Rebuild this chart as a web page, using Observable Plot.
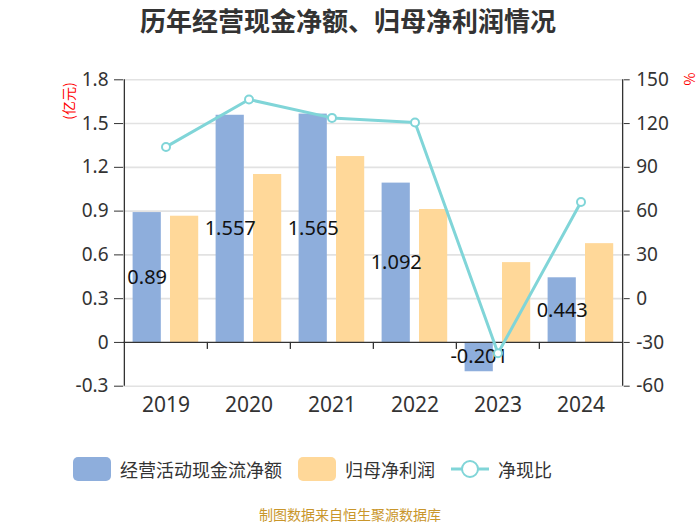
<!DOCTYPE html>
<html>
<head>
<meta charset="utf-8">
<script src="https://cdn.jsdelivr.net/npm/d3@7"></script>
<script src="https://cdn.jsdelivr.net/npm/@observablehq/plot@0.6"></script>
<style>
  html, body { margin: 0; padding: 0; background: #fff; }
  #wrap { position: relative; width: 700px; height: 525px; overflow: hidden; font-family: "Noto Sans", "Noto Sans CJK SC", sans-serif; }
  #title { position: absolute; left: 0; top: 4px; width: 696px; text-align: center; font-family: "Noto Sans CJK SC", sans-serif; font-weight: bold; font-size: 26px; line-height: 32px; color: #333; }
  #chart { position: absolute; left: 0; top: 0; }
  .unit { position: absolute; color: #f00; font-family: "Noto Sans CJK SC", sans-serif; font-size: 14px; line-height: 14px; white-space: nowrap; transform-origin: center center; }
  #legend { position: absolute; left: 0; top: 455px; width: 700px; height: 28px; font-family: "Noto Sans CJK SC", sans-serif; font-size: 18px; color: #333; }
  .item { position: absolute; top: 0; height: 28px; display: flex; align-items: center; }
  .sw { width: 38px; height: 24px; border-radius: 5px; margin-right: 9px; }
  #caption { position: absolute; left: 0; top: 507px; width: 700px; height: 14px; text-align: center; font-family: "Noto Sans CJK SC", sans-serif; font-size: 14px; line-height: 14px; color: #c9962b; }
</style>
</head>
<body>
<div id="wrap">
  <div id="chart"></div>
  <div id="title"></div>
  <div class="unit" id="unitL"></div>
  <div class="unit" id="unitR"></div>
  <div id="legend"></div>
  <div id="caption"></div>
</div>
<script>
const title = "历年经营现金净额、归母净利润情况";
const years = ["2019", "2020", "2021", "2022", "2023", "2024"];
const cashFlow = [0.89, 1.557, 1.565, 1.092, -0.201, 0.443];
const netProfit = [0.865, 1.151, 1.274, 0.911, 0.547, 0.677];
const ratio = [104.0, 136.5, 123.9, 120.7, -37.4, 66.2];
const leftTicks = [-0.3, 0, 0.3, 0.6, 0.9, 1.2, 1.5, 1.8];
const rightTicks = [-60, -30, 0, 30, 60, 90, 120, 150];
const seriesNames = ["经营活动现金流净额", "归母净利润", "净现比"];
const unitLeft = "(亿元)";
const unitRight = "%";
const caption = "制图数据来自恒生聚源数据库";

const colors = { cash: "#8eaedc", profit: "#ffd899", ratio: "#80d5d8" };

// right axis (-60..150) is mapped onto the left domain (-0.3..1.8)
const toLeft = v => v / 100 + 0.3;
const fromLeft = d => Math.round((d - 0.3) * 100);

const rows = years.map((year, i) => ({ year, cash: cashFlow[i], profit: netProfit[i], ratio: ratio[i] }));

const W = 700, H = 430, ML = 123, MR = 77.3, MT = 79.3, MB = 44.3;
const bw = (W - ML - MR) / years.length;
const barW = 28.5, off1 = 8.6, off2 = 46;

const fmtL = d => d === 0 ? "0" : d.toFixed(1);

const chart = Plot.plot({
  width: W, height: H,
  marginLeft: ML, marginRight: MR, marginTop: MT, marginBottom: MB,
  style: { fontFamily: "'Noto Sans', 'Noto Sans CJK SC', sans-serif", background: "transparent" },
  x: { type: "band", domain: years, padding: 0 },
  y: { domain: [-0.3, 1.8] },
  marks: [
    Plot.ruleY(leftTicks.filter(d => d !== 0), { stroke: "#e2e2e2", strokeWidth: 1.6 }),
    Plot.barY(rows, { x: "year", y: "cash", fill: colors.cash, insetLeft: off1, insetRight: bw - off1 - barW }),
    Plot.barY(rows, { x: "year", y: "profit", fill: colors.profit, insetLeft: off2, insetRight: bw - off2 - barW }),
    Plot.ruleY([0], { stroke: "#333", strokeWidth: 1.3 }),
    Plot.ruleX(years.slice(1), { x: d => d, dx: -bw / 2, y1: 0, y2: -0.048, stroke: "#333", strokeWidth: 1.3 }),
    Plot.ruleX([years[0]], { x: d => d, dx: -bw / 2, y1: -0.3, y2: 1.8, stroke: "#333", strokeWidth: 1.3 }),
    Plot.ruleX([years[years.length - 1]], { x: d => d, dx: bw / 2, y1: -0.3, y2: 1.8, stroke: "#333", strokeWidth: 1.3 }),
    Plot.axisY({ anchor: "left", ticks: leftTicks, tickFormat: fmtL, tickSize: 9, tickPadding: 6, fontSize: 19, color: "#333", stroke: "#333", label: null }),
    Plot.axisY({ anchor: "right", ticks: rightTicks.map(toLeft), tickFormat: d => String(fromLeft(d)), tickSize: 6, tickPadding: 7, fontSize: 19, color: "#333", stroke: "#333", label: null }),
    Plot.axisX({ tickSize: 0, tickPadding: 11, fontSize: 21, color: "#333", label: null }),
    Plot.text(rows, { x: "year", y: d => d.cash / 2, text: d => String(d.cash), dx: off1 + barW / 2 - bw / 2, fontSize: 20, fill: "#111" }),
    Plot.line(rows, { x: "year", y: d => toLeft(d.ratio), stroke: colors.ratio, strokeWidth: 3 }),
    Plot.dot(rows, { x: "year", y: d => toLeft(d.ratio), r: 4, fill: "#fff", stroke: colors.ratio, strokeWidth: 2 })
  ]
});
document.getElementById("chart").appendChild(chart);

document.getElementById("title").textContent = title;
document.getElementById("caption").textContent = caption;

const uL = document.getElementById("unitL");
uL.textContent = unitLeft;
uL.style.left = (68 - 21) + "px";
uL.style.top = (101 - 7) + "px";
uL.style.width = "42px";
uL.style.textAlign = "center";
uL.style.transform = "rotate(-90deg)";

const uR = document.getElementById("unitR");
uR.textContent = unitRight;
uR.style.left = (689 - 7) + "px";
uR.style.top = (79 - 7) + "px";
uR.style.width = "14px";
uR.style.textAlign = "center";
uR.style.transform = "rotate(-90deg)";

const legend = document.getElementById("legend");
const items = [
  { name: seriesNames[0], left: 73, kind: "rect", color: colors.cash },
  { name: seriesNames[1], left: 298, kind: "rect", color: colors.profit },
  { name: seriesNames[2], left: 451, kind: "line", color: colors.ratio }
];
for (const it of items) {
  const el = document.createElement("div");
  el.className = "item";
  el.style.left = it.left + "px";
  if (it.kind === "rect") {
    const sw = document.createElement("div");
    sw.className = "sw";
    sw.style.background = it.color;
    el.appendChild(sw);
  } else {
    const ns = "http://www.w3.org/2000/svg";
    const s = document.createElementNS(ns, "svg");
    s.setAttribute("width", 38); s.setAttribute("height", 24);
    s.style.marginRight = "9px";
    const ln = document.createElementNS(ns, "line");
    ln.setAttribute("x1", 0); ln.setAttribute("x2", 38); ln.setAttribute("y1", 12); ln.setAttribute("y2", 12);
    ln.setAttribute("stroke", it.color); ln.setAttribute("stroke-width", 3);
    const c = document.createElementNS(ns, "circle");
    c.setAttribute("cx", 19); c.setAttribute("cy", 12); c.setAttribute("r", 8);
    c.setAttribute("fill", "#fff"); c.setAttribute("stroke", it.color); c.setAttribute("stroke-width", 2);
    s.appendChild(ln); s.appendChild(c);
    el.appendChild(s);
  }
  const t = document.createElement("span");
  t.textContent = it.name;
  el.appendChild(t);
  legend.appendChild(el);
}
</script>
</body>
</html>
